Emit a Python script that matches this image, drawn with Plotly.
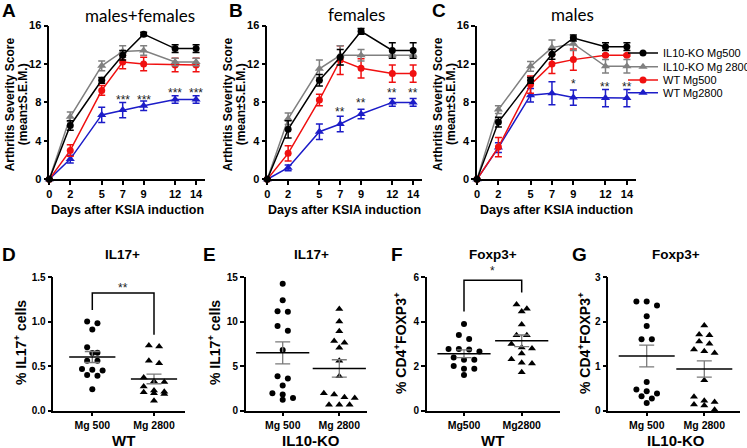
import plotly.graph_objects as go

W, H = 747, 448
FONT = "Liberation Sans, Arial, sans-serif"
TITLE_FONT = "Lato, Open Sans, sans-serif"

# ---- top panels: arthritis score over time (mean, SEM) ----
days = [0, 2, 5, 7, 9, 12, 14]
series_names = ["IL10-KO Mg500", "IL10-KO Mg 2800", "WT Mg500", "WT Mg2800"]

# males+females
a_ko500 = [0, 5.6, 10.3, 12.9, 15.1, 13.6, 13.6]
a_ko500_err = [0, 0.5, 0.3, 0.5, 0.2, 0.4, 0.4]
a_ko2800 = [0, 6.5, 11.8, 13.3, 13.4, 12.2, 12.2]
a_ko2800_err = [0, 0.5, 0.5, 0.6, 0.5, 0.4, 0.4]
a_wt500 = [0, 3.0, 9.25, 12.2, 12.0, 11.9, 11.9]
a_wt500_err = [0, 0.6, 0.5, 0.7, 0.7, 0.7, 0.7]
a_wt2800 = [0, 2.1, 6.7, 7.2, 7.65, 8.3, 8.3]
a_wt2800_err = [0, 0.4, 0.8, 0.8, 0.5, 0.4, 0.4]

# females
b_ko500 = [0, 5.2, 10.3, 12.7, 15.4, 13.4, 13.4]
b_ko500_err = [0, 0.9, 0.6, 0.8, 0.3, 0.8, 0.8]
b_ko2800 = [0, 6.3, 11.5, 12.9, 12.9, 12.9, 12.9]
b_ko2800_err = [0, 0.6, 0.9, 1.0, 0.6, 0, 0]
b_wt500 = [0, 2.7, 8.25, 12.4, 11.55, 11.0, 11.0]
b_wt500_err = [0, 0.8, 0.6, 1.5, 1.0, 0.9, 0.9]
b_wt2800 = [0, 1.2, 4.95, 5.75, 6.8, 8.0, 8.0]
b_wt2800_err = [0, 0.3, 0.8, 0.8, 0.5, 0.4, 0.4]

# males
c_ko500 = [0, 5.95, 10.3, 13.0, 14.7, 13.8, 13.8]
c_ko500_err = [0, 0.5, 0.3, 0.5, 0.3, 0.4, 0.4]
c_ko2800 = [0, 7.25, 11.75, 13.7, 14.1, 11.75, 11.75]
c_ko2800_err = [0, 0.4, 0.5, 0.8, 0.7, 0.7, 0.7]
c_wt500 = [0, 3.35, 9.85, 12.0, 12.45, 12.9, 12.9]
c_wt500_err = [0, 1.0, 0.9, 1.0, 1.1, 0.1, 0.1]
c_wt2800 = [0, 3.3, 8.75, 8.95, 8.5, 8.45, 8.45]
c_wt2800_err = [0, 0.5, 0.7, 1.2, 0.8, 0.9, 0.9]

# significance stars (day, label, height)
a_star_days = [7, 9, 12, 14]
a_star_text = ["***", "***", "***", "***"]
a_star_y = [8.6, 8.6, 9.3, 9.3]
b_star_days = [7, 9, 12, 14]
b_star_text = ["**", "**", "**", "**"]
b_star_y = [7.3, 8.25, 9.3, 9.3]
c_star_days = [9, 12, 14]
c_star_text = ["*", "**", "**"]
c_star_y = [10.2, 9.9, 9.9]

# ---- bottom panels: individual mice ----
d_mg500 = [0.98, 1.0, 0.91, 0.71, 0.645, 0.65, 0.56, 0.56, 0.45, 0.465, 0.458, 0.39, 0.40, 0.24]
d_mg2800 = [0.72, 0.73, 0.53, 0.56, 0.37, 0.32, 0.33, 0.27, 0.225, 0.195, 0.21, 0.185, 0.205, 0.11]
e_mg500 = [14.25, 12.4, 11.1, 11.15, 9.5, 8.95, 6.8, 3.85, 3.6, 2.8, 1.95, 1.8, 1.2, 1.4]
e_mg2800 = [11.4, 10.0, 8.9, 7.8, 7.6, 7.05, 5.6, 3.85, 1.95, 1.4, 1.8, 1.5, 0.65, 0.65, 0.65]
f_mg500 = [3.89, 3.39, 3.21, 2.76, 2.74, 2.76, 2.65, 2.38, 2.28, 2.28, 2.0, 1.88, 1.88, 1.6]
f_mg2800 = [4.76, 4.57, 4.45, 3.86, 3.38, 3.38, 2.99, 2.83, 2.79, 2.56, 2.3, 2.15, 2.11, 1.72]
g_mg500 = [2.45, 2.45, 2.36, 2.12, 1.9, 1.6, 1.6, 0.64, 0.43, 0.47, 0.38, 0.32, 0.27, 0.17]
g_mg2800 = [1.91, 1.71, 1.69, 1.37, 1.5, 1.55, 1.33, 1.29, 0.68, 0.19, 0.22, 0.31, 0.11, 0.135, 0.015]

# brackets: left leg bottom, top, right leg bottom, star height
d_bracket = [1.13, 1.32, 0.85, 1.41]
f_bracket = [4.45, 5.85, 5.3, 6.4]


def fx(p):
    return p / W


def fy(p):
    return 1 - p / H


def mean_sem(v):
    n = len(v)
    m = sum(v) / n
    sd = (sum((a - m) ** 2 for a in v) / (n - 1)) ** 0.5
    return m, sd / n ** 0.5


def swarm(vals, px_y, px_x, step=10.3, thr=5.5):
    # prism-like centred rows
    order = sorted(range(len(vals)), key=lambda i: -vals[i])
    rows = []
    for i in order:
        if rows and (vals[rows[-1][0]] - vals[i]) * px_y < thr:
            rows[-1].append(i)
        else:
            rows.append([i])
    offs = [0.0] * len(vals)
    for r in rows:
        n = len(r)
        for k, i in enumerate(r):
            offs[i] = (k - (n - 1) / 2) * step / px_x
    return offs


def label(x, y, text, size, family=FONT, angle=0, color="black"):
    return dict(x=fx(x), y=fy(y), xref="paper", yref="paper", text=text, showarrow=False,
                xanchor="center", yanchor="middle", textangle=angle, borderpad=0,
                font=dict(family=family, size=size, color=color))


fig = go.Figure()
annotations = []
shapes = []

axis_common = dict(showline=True, linecolor="black", linewidth=1.5, ticks="outside",
                   ticklen=4, tickwidth=1.5, tickcolor="black", showgrid=False,
                   zeroline=False, automargin=False,
                   tickfont=dict(family=FONT, size=11, color="black", weight="bold"))

colors = ["#000000", "#808080", "#f01010", "#1c1cc8"]
symbols = ["circle", "triangle-up", "circle", "triangle-up"]
sizes = [7, 8, 7, 8]

top = [
    ("A", "males+females", 49.3, 205, 140, [a_ko500, a_ko2800, a_wt500, a_wt2800],
     [a_ko500_err, a_ko2800_err, a_wt500_err, a_wt2800_err], a_star_days, a_star_text, a_star_y, 8.5, 16),
    ("B", "females", 267.3, 422, 356, [b_ko500, b_ko2800, b_wt500, b_wt2800],
     [b_ko500_err, b_ko2800_err, b_wt500_err, b_wt2800_err], b_star_days, b_star_text, b_star_y, 236, 14),
    ("C", "males", 477, 636, 572.5, [c_ko500, c_ko2800, c_wt500, c_wt2800],
     [c_ko500_err, c_ko2800_err, c_wt500_err, c_wt2800_err], c_star_days, c_star_text, c_star_y, 438.5, 14.5),
]
top_y0, top_y1 = 25.5, 179.3
legend_y = [53, 66.7, 80, 92.7]

for p, (letter, title, x0, x1, tx, ys, errs, sd, st, sy, lx, ty) in enumerate(top):
    ax = "" if p == 0 else str(p + 1)
    for k in [3, 2, 1, 0]:
        fig.add_trace(go.Scatter(
            x=days, y=ys[k], mode="lines+markers", name=series_names[k],
            line=dict(color=colors[k], width=1.5),
            marker=dict(color=colors[k], symbol=symbols[k], size=sizes[k]),
            error_y=dict(type="data", array=errs[k], color=colors[k], thickness=1.5, width=3.5),
            cliponaxis=False, showlegend=(p == 0),
            legend="legend" if k == 0 else "legend%d" % (k + 1),
            xaxis="x" + ax, yaxis="y" + ax))
    fig.update_layout(**{
        "xaxis" + ax: dict(axis_common, domain=[fx(x0), fx(x1)], range=[0, 14.85],
                           tickvals=days, anchor="y" + ax),
        "yaxis" + ax: dict(axis_common, domain=[fy(top_y1), fy(top_y0)], range=[0, 16],
                           tickvals=[0, 4, 8, 12, 16], anchor="x" + ax),
    })
    for d, t, yv in zip(sd, st, sy):
        annotations.append(dict(x=d, y=yv, xref="x" + ax, yref="y" + ax, text=t, showarrow=False,
                                xanchor="center", yanchor="middle", yshift=-3,
                                font=dict(family=FONT, size=12, color="#222")))
    annotations.append(label(tx, ty, title, 17, TITLE_FONT))
    annotations.append(label(lx, 10.5, "<b>%s</b>" % letter, 19))
    annotations.append(label(x0 - 39, 104, "<b>Arthritis Severity Score</b>", 12, angle=-90))
    annotations.append(label(x0 - 26, 104, "<b>(mean±S.E.M.)</b>", 12, angle=-90))
    annotations.append(label((x0 + x1) / 2, 210, "<b>Days after KSIA induction</b>", 12.5))

legends = {}
for k in range(4):
    key = "legend" if k == 0 else "legend%d" % (k + 1)
    legends[key] = dict(x=fx(623), y=fy(legend_y[k]), xanchor="left", yanchor="middle",
                        xref="container", yref="container",
                        bgcolor="rgba(0,0,0,0)", itemwidth=30,
                        font=dict(family=FONT, size=11, color="black"))
fig.update_layout(**legends)

# ---- bottom panels ----
bot_y0, bot_y1 = 277, 410.5
bottom = [
    ("D", "IL17+", "% IL17<sup>+</sup> cells", "WT", 53.3, 185, 92.3, 154, d_mg500, d_mg2800,
     [0, 1.5], [0, 0.5, 1.0, 1.5], ".1f", ["Mg 500", "Mg 2800"], 9, 122, 20, 33, d_bracket, "**"),
    ("E", "IL17+", "% IL17<sup>+</sup> cells", "IL10-KO", 245.7, 366.7, 282.7, 339.3, e_mg500, e_mg2800,
     [0, 15], [0, 5, 10, 15], "", ["Mg 500", "Mg 2800"], 209, 311.7, 214, 38, None, ""),
    ("F", "Foxp3+", "% CD4<sup>+</sup>FOXP3<sup>+</sup>", "WT", 426.7, 560, 464, 521.7, f_mg500, f_mg2800,
     [0, 6], [0, 2, 4, 6], "", ["Mg500", "Mg2800"], 397.5, 493, 400, 38, f_bracket, "*"),
    ("G", "Foxp3+", "% CD4<sup>+</sup>FOXP3<sup>+</sup>", "IL10-KO", 608.3, 740, 646.7, 704.3, g_mg500, g_mg2800,
     [0, 3], [0, 1, 2, 3], "", ["Mg 500", "Mg 2800"], 579.5, 676, 584, 40, None, ""),
]

for p, (letter, title, ytitle, group, x0, x1, c0, c1, v0, v1, yr, yt, yfmt, cats,
        lx, tx, ytx, mw, br, brtxt) in enumerate(bottom):
    ax = str(p + 5)
    px_x = c1 - c0
    px_y = (bot_y1 - bot_y0) / (yr[1] - yr[0])
    xr = [(x0 - c0) / px_x, (x1 - c0) / px_x]
    for ci, (vals, sym, sz) in enumerate([(v0, "circle", 6), (v1, "triangle-up", 7)]):
        offs = swarm(vals, px_y, px_x)
        fig.add_trace(go.Scatter(
            x=[ci + o for o in offs], y=vals, mode="markers", showlegend=False,
            marker=dict(color="black", symbol=sym, size=sz), cliponaxis=False,
            xaxis="x" + ax, yaxis="y" + ax))
        m, s = mean_sem(vals)
        fig.add_trace(go.Scatter(
            x=[ci], y=[m], mode="markers", showlegend=False, cliponaxis=False,
            marker=dict(symbol="line-ew", size=mw, line=dict(color="black", width=1.5)),
            error_y=dict(type="data", array=[s], color="#7a7a7a", thickness=1.3, width=7.5),
            xaxis="x" + ax, yaxis="y" + ax))
    fig.update_layout(**{
        "xaxis" + ax: dict(axis_common, domain=[fx(x0), fx(x1)], range=xr, tickvals=[0, 1],
                           ticktext=cats, anchor="y" + ax,
                           tickfont=dict(family=FONT, size=10.5, color="black", weight="bold")),
        "yaxis" + ax: dict(axis_common, domain=[fy(bot_y1), fy(bot_y0)], range=yr, tickvals=yt,
                           tickformat=yfmt, anchor="x" + ax,
                           tickfont=dict(family=FONT, size=10, color="black", weight="bold")),
    })
    if br:
        shapes.append(dict(type="path", xref="x" + ax, yref="y" + ax,
                           path="M 0,%g L 0,%g L 1,%g L 1,%g" % (br[0], br[1], br[1], br[2]),
                           line=dict(color="black", width=1.5)))
        # star may sit above the axis top, so place it in paper space
        star_px = bot_y1 - (br[3] - yr[0]) * px_y
        annotations.append(label((c0 + c1) / 2, star_px + 3, brtxt, 12, color="#222"))
    annotations.append(label(lx, 254, "<b>%s</b>" % letter, 19))
    annotations.append(label(tx, 254, "<b>%s</b>" % title, 13.5))
    annotations.append(label(ytx, 343, "<b>%s</b>" % ytitle, 14, angle=-90))
    annotations.append(label((c0 + c1) / 2, 440.5, "<b>%s</b>" % group, 15))

fig.update_layout(
    width=W, height=H, margin=dict(l=0, r=0, t=0, b=0, autoexpand=False),
    paper_bgcolor="white", plot_bgcolor="white",
    annotations=annotations, shapes=shapes,
)

# drop the browser's default body margin so the figure sits at the window corner
fig.write_html("out.html", config={"displayModeBar": False},
               post_script="document.body.style.margin='0';")
